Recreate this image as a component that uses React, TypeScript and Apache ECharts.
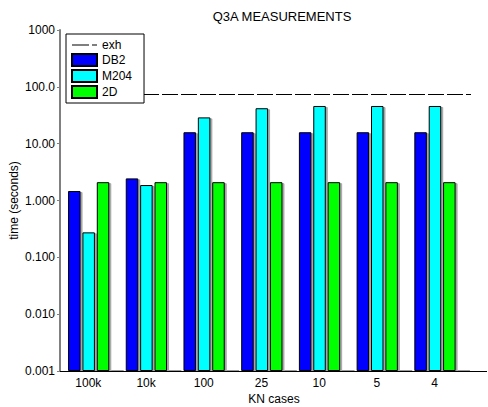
import React, { useEffect, useRef } from "react";
import * as echarts from "echarts";

const categories = ["100k", "10k", "100", "25", "10", "5", "4"];
const db2 = [1.47, 2.45, 15.9, 15.9, 15.9, 15.9, 15.9];
const m204 = [0.275, 1.87, 29, 42, 46, 46, 46];
const twoD = [2.1, 2.1, 2.1, 2.1, 2.1, 2.1, 2.1];
const gapSlot = [0.001, 0.001, 0.001, 0.001, 0.001, 0.001, 0.001];
const exhValue = 75;
const yTickLabels: Record<string, string> = {
  "-3": "0.001",
  "-2": "0.010",
  "-1": "0.100",
  "0": "1.000",
  "1": "10.00",
  "2": "100.0",
  "3": "1000",
};

const FONT = "Liberation Sans, Arial, sans-serif";
const EXH_ICON = "path://M0,0h0.01v0.01H0z M0,5.5h17v1H0z M20,5.5h5v1h-5z M24.99,11.99h0.01v0.01h-0.01z";

export default function App() {
  const ref = useRef<HTMLDivElement>(null);
  useEffect(() => {
    if (!ref.current) return;
    const chart = echarts.init(ref.current, undefined, { renderer: "svg" });
    const barStyle = (color: string) => ({
      color,
      borderColor: "#000",
      borderWidth: 1,
      shadowColor: "rgba(0,0,0,0.35)",
      shadowOffsetX: 2,
      shadowOffsetY: 1,
      shadowBlur: 1,
    });
    chart.setOption({
      animation: false,
      textStyle: { fontFamily: FONT },
      title: {
        text: "Q3A MEASUREMENTS",
        left: 277,
        top: 5,
        textAlign: "center",
        textStyle: { fontSize: 13, fontWeight: "normal", color: "#000", fontFamily: FONT },
      },
      legend: {
        orient: "vertical",
        left: 66,
        top: 34,
        data: [
          { name: "exh", icon: EXH_ICON },
          { name: "DB2", icon: "rect" },
          { name: "M204", icon: "rect" },
          { name: "2D", icon: "rect" },
        ],
        backgroundColor: "#fff",
        borderColor: "#000",
        borderWidth: 1,
        borderRadius: 0,
        padding: [5, 12, 4, 5],
        itemGap: 2,
        itemWidth: 25,
        itemHeight: 12,
        textStyle: { fontSize: 12, color: "#000", fontFamily: FONT },
        z: 10,
      },
      grid: {
        left: 67,
        top: 30,
        width: 404,
        height: 341,
        containLabel: false,
        outerBoundsMode: "none",
      },
      xAxis: {
        type: "category",
        data: categories,
        axisLine: { show: false },
        axisTick: { show: false },
        axisLabel: {
          fontSize: 12,
          color: "#000",
          margin: 6,
          padding: [0, 15, 0, 0],
          fontFamily: FONT,
        },
        name: "KN cases",
        nameLocation: "middle",
        nameGap: 22,
        nameMoveOverlap: false,
        nameTextStyle: { fontSize: 12, color: "#000", padding: [0, 0, 0, 10], fontFamily: FONT },
      },
      yAxis: {
        type: "log",
        logBase: 10,
        min: 0.001,
        max: 1000,
        startValue: 0.001,
        offset: 7,
        axisLine: { show: true, lineStyle: { color: "#808080", width: 2 } },
        axisTick: { show: true, length: 3, lineStyle: { color: "#808080" } },
        minorTick: { show: false },
        splitLine: { show: false },
        axisLabel: {
          fontSize: 12,
          color: "#000",
          margin: 5,
          fontFamily: FONT,
          formatter: (v: number) => yTickLabels[String(Math.round(Math.log10(v)))] ?? "",
        },
        name: "time (seconds)",
        nameLocation: "middle",
        nameGap: 40,
        nameMoveOverlap: false,
        nameTextStyle: { fontSize: 12, color: "#000", fontFamily: FONT },
      },
      series: [
        {
          name: "exh",
          type: "line",
          data: [],
          symbol: "none",
          lineStyle: { color: "#000", width: 1, type: [16, 3] },
          itemStyle: { color: "#000" },
          markLine: {
            silent: true,
            symbol: "none",
            label: { show: false },
            lineStyle: { color: "#000", width: 1, type: [16, 3] },
            data: [{ yAxis: exhValue }],
          },
        },
        { name: "DB2", type: "bar", data: db2, barWidth: 12.5, barGap: "15%", itemStyle: barStyle("#0000ff") },
        { name: "M204", type: "bar", data: m204, barWidth: 12.5, barGap: "15%", itemStyle: barStyle("#00ffff") },
        { name: "2D", type: "bar", data: twoD, barWidth: 12.5, barGap: "15%", itemStyle: barStyle("#00ff00") },
        {
          name: "gap",
          type: "bar",
          data: gapSlot,
          barWidth: 12.5,
          barGap: "15%",
          silent: true,
          itemStyle: { color: "#999", borderColor: "#999", borderWidth: 2 },
        },
      ],
      graphic: [
        {
          type: "line",
          shape: { x1: 60, y1: 371.5, x2: 487, y2: 371.5 },
          style: { stroke: "#000", lineWidth: 1 },
          z: 5,
        },
      ],
    });
    return () => chart.dispose();
  }, []);
  return (
    <div
      ref={ref}
      style={{ position: "fixed", left: 0, top: 0, width: 488, height: 407, background: "#fff" }}
    />
  );
}
